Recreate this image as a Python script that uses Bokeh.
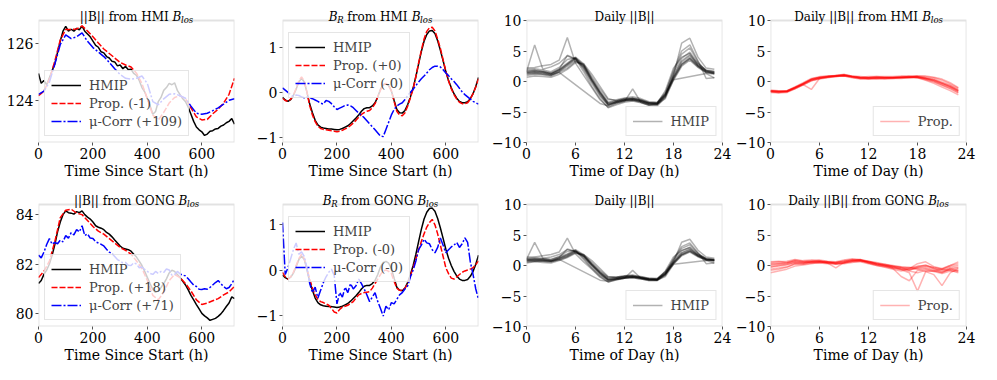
from bokeh.plotting import figure
from bokeh.layouts import gridplot
from bokeh.models import Range1d, FixedTicker, Label, Legend, LegendItem, BoxAnnotation
from bokeh.embed import file_html
from bokeh.resources import INLINE

FONT = "DejaVu Serif"

# ---------------- data ----------------
t10 = list(range(0, 721, 10))
t20 = list(range(0, 721, 20))
hours = list(range(24))

# ||B|| from HMI B_los
hmi_b_hmip = [124.95, 124.6, 124.7, 124.55, 124.8, 125.05, 125.3, 125.7, 126.1, 126.45,
              126.62, 126.45, 126.52, 126.45, 126.55, 126.5, 126.63, 126.45, 126.35, 126.25,
              126.1, 125.95, 125.88, 125.72, 125.68, 125.55, 125.5, 125.38, 125.36, 125.22,
              125.25, 125.12, 125.2, 125.08, 125.1, 124.95, 124.88, 124.7, 124.45, 124.3,
              124.05, 123.8, 123.5, 123.6, 123.95, 124.1, 124.35, 124.45, 124.6, 124.55,
              124.62, 124.35, 124.2, 124.05, 123.95, 123.75, 123.5, 123.25, 123.05, 122.95,
              122.88, 122.75, 122.8, 122.9, 122.92, 122.98, 123.0, 123.08, 123.12, 123.2,
              123.25, 123.35, 123.15]
hmi_b_prop = [124.16, 124.32, 124.75, 125.39, 126.14, 126.51, 126.51, 126.53, 126.64, 126.46,
              126.25, 126.03, 125.82, 125.66, 125.5, 125.34, 125.25, 125.18, 124.96, 124.59,
              124.05, 123.47, 123.3, 123.57, 123.9, 124.1, 124.16, 124.05, 123.73, 123.41,
              123.3, 123.32, 123.52, 123.68, 123.9, 124.21, 124.78]
hmi_b_mucorr = [124.21, 124.32, 124.64, 125.28, 125.98, 126.32, 126.19, 126.25, 126.39, 126.09,
                125.87, 125.71, 125.55, 125.34, 125.12, 124.91, 124.78, 124.75, 124.78, 124.86,
                124.59, 123.95, 123.84, 124.05, 124.21, 124.23, 124.16, 124.07, 123.79, 123.54,
                123.5, 123.54, 123.63, 123.73, 123.86, 124.0, 124.05]

# B_R (HMIP, shared by both B_R panels)
br_hmip = [-0.11, -0.17, -0.2, -0.16, -0.07, 0.07, 0.23, 0.31, 0.23, 0.0,
           -0.26, -0.45, -0.62, -0.72, -0.77, -0.79, -0.8, -0.81, -0.81, -0.82,
           -0.83, -0.82, -0.8, -0.77, -0.74, -0.69, -0.63, -0.57, -0.5, -0.42,
           -0.36, -0.34, -0.34, -0.3, -0.23, -0.1, 0.07, 0.17, 0.19, 0.15,
           0.03, -0.18, -0.38, -0.45, -0.46, -0.4, -0.27, -0.1, 0.1, 0.35,
           0.63, 0.9, 1.13, 1.28, 1.36, 1.37, 1.3, 1.14, 0.93, 0.7,
           0.46, 0.26, 0.1, -0.03, -0.13, -0.2, -0.23, -0.23, -0.21, -0.14,
           -0.03, 0.13, 0.33]
hmi_br_prop = [-0.13, -0.18, -0.2, -0.15, -0.06, 0.09, 0.25, 0.34, 0.25, 0.0,
               -0.3, -0.5, -0.65, -0.75, -0.8, -0.82, -0.83, -0.84, -0.85, -0.86,
               -0.87, -0.86, -0.84, -0.81, -0.78, -0.73, -0.68, -0.62, -0.55, -0.49,
               -0.45, -0.42, -0.4, -0.34, -0.25, -0.1, 0.05, 0.16, 0.2, 0.15,
               0.03, -0.2, -0.42, -0.5, -0.52, -0.45, -0.3, -0.12, 0.08, 0.35,
               0.65, 0.93, 1.18, 1.35, 1.43, 1.44, 1.36, 1.18, 0.97, 0.72,
               0.47, 0.25, 0.08, -0.05, -0.15, -0.22, -0.25, -0.25, -0.23, -0.15,
               -0.03, 0.12, 0.3]
hmi_br_mucorr = [0.1, 0.05, 0.0, -0.05, -0.09, -0.06, -0.07, -0.1, -0.12, -0.1,
                 -0.12, -0.14, -0.17, -0.2, -0.24, -0.26, -0.18, -0.2, -0.25, -0.32,
                 -0.38, -0.35, -0.32, -0.29, -0.28, -0.3, -0.34, -0.4, -0.46, -0.51,
                 -0.56, -0.63, -0.7, -0.76, -0.83, -0.9, -0.97, -0.98, -0.82, -0.66,
                 -0.5, -0.38, -0.3, -0.26, -0.23, -0.16, -0.07, 0.0, 0.07, 0.15,
                 0.23, 0.3, 0.36, 0.43, 0.5, 0.55, 0.58, 0.58, 0.56, 0.5,
                 0.43, 0.37, 0.3, 0.24, 0.17, 0.09, 0.01, -0.05, -0.1, -0.15,
                 -0.2, -0.23, -0.26]

# ||B|| from GONG B_los
gong_b_hmip = [81.21, 81.33, 81.58, 81.75, 82.0, 82.35, 82.79, 83.3, 83.7, 84.0,
               84.15, 84.08, 84.06, 84.02, 84.12, 84.08, 84.15, 84.0, 83.9, 83.82,
               83.7, 83.55, 83.49, 83.45, 83.39, 83.28, 83.21, 83.1, 82.97, 82.85,
               82.73, 82.64, 82.61, 82.58, 82.52, 82.4, 82.28, 82.12, 81.94, 81.7,
               81.45, 81.2, 80.97, 80.85, 80.91, 81.05, 81.21, 81.4, 81.64, 81.75,
               81.7, 81.58, 81.45, 81.3, 81.15, 80.95, 80.73, 80.55, 80.36, 80.18,
               80.0, 79.9, 79.82, 79.72, 79.76, 79.8, 79.88, 79.98, 80.12, 80.28,
               80.42, 80.67, 80.6]
gong_b_prop = [81.45, 81.7, 82.12, 82.91, 83.88, 84.18, 84.22, 84.06, 84.0, 83.76,
               83.52, 83.33, 83.21, 83.03, 82.85, 82.67, 82.55, 82.4, 82.12, 81.82,
               81.33, 80.73, 80.55, 80.85, 81.33, 81.58, 81.45, 81.21, 80.91, 80.55,
               80.36, 80.42, 80.51, 80.6, 80.75, 80.87, 81.09]
gong_b_mucorr = [82.36, 82.25, 82.48, 82.79, 83.03, 82.8, 82.88, 82.82, 82.97, 82.9,
                 83.15, 83.05, 83.27, 83.18, 83.39, 83.3, 83.55, 83.15, 83.22, 83.05,
                 83.03, 82.9, 82.85, 82.8, 82.73, 82.6, 82.48, 82.42, 82.3, 82.18,
                 82.12, 82.05, 82.06, 81.95, 81.94, 82.05, 82.0, 81.85, 81.88, 81.78,
                 81.7, 81.62, 81.58, 81.7, 81.62, 81.7, 81.66, 81.8, 81.76, 81.55,
                 81.58, 81.7, 81.6, 81.55, 81.52, 81.4, 81.27, 81.15, 81.09, 80.98,
                 80.97, 81.0, 80.98, 81.05, 81.15, 81.25, 81.33, 81.2, 81.09, 81.0,
                 81.05, 81.2, 81.39]

# B_R from GONG B_los
gong_br_prop = [-0.05, -0.15, -0.2, -0.15, -0.05, 0.1, 0.25, 0.35, 0.25, 0.02,
                -0.2, -0.4, -0.55, -0.65, -0.7, -0.72, -0.75, -0.78, -0.85, -0.93,
                -0.95, -0.87, -0.82, -0.8, -0.78, -0.74, -0.7, -0.62, -0.55, -0.52,
                -0.5, -0.49, -0.48, -0.4, -0.3, -0.2, -0.1, -0.02, 0.0, -0.03,
                -0.08, -0.25, -0.4, -0.45, -0.45, -0.4, -0.3, -0.13, 0.05, 0.25,
                0.45, 0.63, 0.8, 0.95, 1.05, 1.12, 1.0, 0.8, 0.55, 0.3,
                0.05, -0.08, -0.18, -0.2, -0.15, -0.1, -0.05, -0.02, 0.0, 0.02,
                0.05, 0.12, 0.2]
gong_br_mucorr = [1.05, -0.1, 0.05, 0.25, 0.45, 0.6, 0.35, 0.4, 0.3, 0.05,
                  -0.3, -0.5, -0.38, -0.62, -0.45, -0.28, -0.15, -0.05, 0.02, -0.12,
                  -0.75, -0.5, -0.6, -0.38, -0.5, -0.3, -0.42, -0.35, -0.2, -0.3,
                  -0.42, -0.55, -0.7, -0.6, -0.5, -0.7, -0.85, -1.02, -0.8, -0.88,
                  -0.72, -0.75, -0.65, -0.55, -0.5, -0.42, -0.35, -0.15, 0.0, 0.2,
                  0.45, 0.55, 0.68, 0.6, 0.58, 0.45, 0.38, 0.5, 0.71, 0.55,
                  0.38, 0.45, 0.51, 0.55, 0.61, 0.5, 0.58, 0.71, 0.61, 0.18,
                  -0.1, -0.42, -0.65]

N = None
# Daily ||B|| profiles, HMIP (HMI panel)
daily_hmi_hmip = [
    [1.5, 1.6, 1.5, 1.2, 1.8, 2.8, 3.8, 2.6, 0.3, -1.8, -3.6, -3.3, -3.0, -2.9, -3.2, -3.6, -3.6, -2.2, 0.5, 2.8, 3.8, 2.5, 1.6, 1.4],
    [1.8, 1.9, 1.7, 1.4, 2.0, 3.0, 4.0, 2.9, 0.5, -1.6, -3.4, -3.1, -2.8, -2.7, -3.0, -3.4, -3.5, -2.0, 0.8, 3.2, 4.2, 2.7, 1.8, 1.6],
    [1.2, 1.3, 1.2, 1.0, 1.6, 2.5, 3.5, 2.4, 0.1, -2.0, -3.8, -3.5, -3.2, -3.1, -3.4, -3.8, -3.8, -2.5, 0.2, 2.5, 3.5, 2.3, 1.4, 1.2],
    [2.0, 2.1, 1.9, 1.6, 2.3, 3.6, 3.9, 2.0, -0.3, -2.4, -3.9, -3.3, -3.0, -2.8, -3.1, -3.5, -3.7, -2.3, 1.2, 3.8, 4.8, 3.0, 1.8, 1.5],
    [1.0, 1.2, 1.1, 0.9, 1.5, 2.2, 3.3, 2.7, 0.8, -1.2, -3.0, -3.0, -2.7, -2.5, -2.8, -3.3, -3.4, -1.8, 1.5, 4.5, 5.5, 3.2, 1.7, 1.3],
    [1.6, 6.0, 2.0, 2.4, 3.0, 4.2, 3.6, 2.2, 0.0, -2.2, -3.8, -3.4, -3.1, -3.0, -3.3, -3.7, -3.8, -2.4, 0.8, 3.4, 4.4, 2.9, 1.9, 1.7],
    [2.2, 2.3, 2.6, 2.8, 3.5, 7.2, 3.0, 1.0, -1.0, -3.0, -4.2, -3.6, -3.3, -1.2, -3.4, -3.9, -4.0, -2.6, 1.0, 6.3, 7.1, 4.0, 2.2, 2.0],
    [1.4, 1.5, 1.3, 1.1, 1.5, N, N, N, N, -3.6, -4.0, -3.5, -3.1, -3.0, -3.2, -3.6, -3.7, -2.8, 0.3, N, N, N, 1.3, 0.6],
    [0.7, 0.9, 0.8, 0.7, 1.2, 2.0, 3.1, 2.9, 1.2, -0.8, -2.8, -3.2, -2.9, -2.8, -3.0, -3.5, -3.6, -2.0, 1.8, 5.0, 6.0, 3.4, 0.5, 0.6],
    [1.7, 1.8, 1.6, 1.3, 2.0, 4.3, 3.7, 1.6, -0.8, -2.8, -4.3, -3.8, -3.4, -3.2, -3.5, -3.9, -3.6, -1.5, 2.2, 4.0, 4.6, 2.6, 1.5, 1.3],
    [1.5, 1.7, 1.6, 1.3, 1.9, 2.9, 3.9, 2.7, 0.4, -1.7, -3.5, -3.2, -2.9, -2.8, -3.1, -3.5, -3.5, -2.1, 0.6, 2.9, 3.9, 2.6, 1.7, 1.5],
    [1.3, 1.4, 1.4, 1.1, 1.7, 2.7, 3.7, 2.5, 0.2, -1.9, -3.7, -3.4, -3.1, -3.0, -3.3, -3.7, -3.7, -2.3, 0.4, 2.7, 3.7, 2.4, 1.5, 1.3],
]
# Daily ||B|| profiles, Prop. from HMI
daily_hmi_prop = [
    [-1.6, -1.7, -1.6, -1.0, -0.4, 0.3, 0.6, 0.8, 0.9, 1.0, 0.8, 0.6, 0.6, 0.6, 0.6, 0.6, 0.7, 0.7, 0.8, 0.6, 0.3, -0.2, -0.7, -1.4],
    [-1.4, -1.5, -1.5, -0.9, -0.2, 0.5, 0.8, 0.9, 1.0, 1.1, 0.9, 0.8, 0.7, 0.8, 0.8, 0.8, 0.9, 0.9, 0.9, 0.8, 0.6, 0.2, -0.4, -1.1],
    [-1.8, -1.9, -1.8, -1.2, -0.6, 0.1, 0.4, 0.6, 0.8, 0.9, 0.6, 0.4, 0.4, 0.4, 0.4, 0.5, 0.5, 0.6, 0.7, 0.4, 0.0, -0.6, -1.1, -1.8],
    [-1.5, -1.6, -1.7, -1.1, -0.5, -1.3, 0.5, 0.8, 0.9, 1.1, 0.9, 0.7, 0.6, 0.5, 0.6, 0.7, 0.7, 0.8, 0.8, 0.5, 0.2, -0.3, -0.9, -1.6],
    [-1.7, -1.8, -1.6, -0.9, -0.3, 0.4, 0.7, 0.9, 1.0, 1.2, 0.8, 0.6, 0.5, 0.6, 0.5, 0.6, 0.8, 0.8, 0.6, 0.2, -0.3, -0.9, -1.5, -2.2],
    [-1.6, -1.7, -1.5, -1.0, -0.5, 0.2, 0.5, 0.7, 0.8, 1.0, 0.7, 0.5, 0.6, 0.7, 0.7, 0.6, 0.6, 0.7, 0.9, 0.9, 0.7, 0.4, -0.2, -1.0],
    [-1.5, -1.6, -1.6, -1.1, -0.4, 0.3, 0.6, 0.7, 0.9, 1.0, 0.8, 0.7, 0.8, 0.8, 0.7, 0.7, 0.6, 0.6, 0.7, 0.5, 0.1, -0.4, -0.9, -1.6],
    [-1.7, -1.8, -1.7, -1.2, -0.5, 0.1, 0.5, 0.7, 0.8, 0.9, 0.7, 0.5, 0.4, 0.5, 0.5, 0.5, 0.6, 0.7, 0.6, 0.3, -0.1, -0.6, -1.2, -1.9],
    [-1.5, -1.6, -1.6, -1.0, -0.3, 0.4, 0.7, 0.8, 1.0, 1.1, 0.8, 0.6, 0.6, 0.7, 0.6, 0.6, 0.7, 0.8, 0.8, 0.6, 0.4, -0.1, -0.6, -1.3],
    [-1.6, -1.7, -1.7, -1.0, -0.4, 0.3, 0.6, 0.8, 0.9, 1.0, 0.8, 0.6, 0.5, 0.6, 0.6, 0.6, 0.7, 0.7, 0.7, 0.5, 0.2, -0.3, -0.8, -1.5],
]
# Daily ||B|| profiles, HMIP (GONG panel)
daily_gong_hmip = [
    [0.8, 0.9, 0.9, 0.8, 1.2, 1.7, 2.4, 1.6, 0.2, -1.2, -2.2, -2.1, -1.9, -1.8, -2.0, -2.3, -2.3, -1.2, 0.4, 1.8, 2.4, 1.6, 1.0, 0.9],
    [1.0, 1.1, 1.1, 1.0, 1.4, 1.9, 2.6, 1.8, 0.3, -1.0, -2.0, -1.9, -1.7, -1.6, -1.9, -2.1, -2.2, -1.0, 0.6, 2.0, 2.6, 1.7, 1.1, 1.0],
    [0.6, 0.7, 0.7, 0.6, 1.0, 1.5, 2.2, 1.5, 0.0, -1.3, -2.4, -2.3, -2.1, -2.0, -2.2, -2.4, -2.4, -1.5, 0.2, 1.6, 2.2, 1.4, 0.9, 0.7],
    [1.2, 1.3, 1.2, 1.0, 1.5, 2.3, 2.5, 1.2, -0.3, -1.6, -2.4, -2.1, -1.9, -1.8, -2.0, -2.2, -2.3, -1.4, 0.8, 2.4, 3.0, 1.9, 1.1, 0.9],
    [0.6, 0.7, 0.7, 0.6, 0.9, 1.4, 2.1, 1.7, 0.5, -0.8, -1.9, -1.9, -1.7, -1.6, -1.8, -2.1, -2.1, -1.1, 1.0, 2.8, 3.4, 2.0, 1.0, 0.8],
    [1.0, 3.8, 1.2, 1.4, 1.8, 2.6, 2.3, 1.4, 0.0, -1.4, -2.4, -2.2, -2.0, -1.9, -2.1, -2.3, -2.4, -1.5, 0.5, 2.1, 2.7, 1.8, 1.2, 1.0],
    [1.4, 1.4, 1.6, 1.8, 2.2, 4.5, 1.9, 0.6, -0.6, -1.9, -2.7, -2.3, -2.1, -0.8, -2.1, -2.5, -2.5, -1.6, 0.6, 3.8, 4.3, 2.5, 1.4, 1.2],
    [0.9, 0.9, 0.8, 0.7, 1.0, N, N, N, N, -2.4, -2.6, -2.2, -2.0, -1.9, -2.0, -2.3, -2.4, -1.8, 0.2, N, N, N, 0.8, 0.4],
    [0.4, 0.6, 0.5, 0.4, 0.8, 1.3, 2.0, 1.8, 0.8, -0.5, -1.8, -2.0, -1.8, -1.8, -1.9, -2.2, -2.3, -1.3, 1.1, 3.1, 3.7, 2.1, 0.3, 0.4],
    [1.1, 1.1, 1.0, 0.8, 1.3, 2.7, 2.3, 1.0, -0.5, -1.8, -2.7, -2.4, -2.1, -2.0, -2.2, -2.4, -2.3, -0.9, 1.4, 2.5, 2.9, 1.6, 0.9, 0.8],
    [0.9, 1.0, 1.0, 0.8, 1.2, 1.8, 2.4, 1.7, 0.2, -1.1, -2.2, -2.0, -1.8, -1.7, -2.0, -2.2, -2.2, -1.3, 0.4, 1.8, 2.4, 1.6, 1.0, 0.9],
    [0.8, 0.8, 0.8, 0.7, 1.1, 1.6, 2.3, 1.5, 0.1, -1.2, -2.3, -2.2, -2.0, -1.9, -2.1, -2.3, -2.3, -1.4, 0.3, 1.7, 2.3, 1.5, 0.9, 0.8],
]
# Daily ||B|| profiles, Prop. from GONG
daily_gong_prop = [
    [0.0, 0.2, 0.3, 0.6, 0.5, 0.6, 0.7, 0.5, 0.4, 0.6, 0.8, 0.8, 0.5, 0.2, 0.0, -0.3, -0.5, -0.6, -0.4, -0.3, -0.6, -0.8, -0.4, -0.3],
    [-0.6, -0.4, -0.2, 0.2, 0.3, 0.5, 0.4, 0.3, 0.2, 0.4, 0.7, 0.9, 0.6, 0.4, 0.1, -0.1, -0.3, -0.8, -0.2, 0.1, -0.5, -1.0, -0.7, -0.8],
    [0.5, 0.6, 0.7, 1.0, 0.8, 0.9, 0.9, 0.7, 0.6, 0.9, 1.1, 0.9, 0.4, 0.0, -0.3, -0.6, -0.9, -0.5, 0.3, 0.6, -0.2, -0.5, 0.0, 0.6],
    [-1.2, -0.9, -0.6, -0.1, 0.1, 0.3, 0.5, 0.6, 0.3, 0.3, 0.5, 0.7, 0.7, 0.5, 0.2, -0.2, -0.7, -1.2, -4.2, -1.0, -0.9, -0.6, -0.8, -1.2],
    [0.3, 0.4, 0.5, 0.9, 0.7, 0.7, 0.8, 0.6, 0.5, 0.7, 1.0, 1.0, 0.7, 0.3, 0.2, 0.0, -0.2, -0.3, -0.6, -1.0, -1.5, -3.3, -1.2, -0.5],
    [-0.3, -0.1, 0.1, 0.4, 0.4, 0.6, 0.6, 0.4, -0.4, 0.5, 0.6, 0.6, 0.3, 0.0, -0.2, -0.5, -1.8, -2.5, -0.8, -0.6, -0.9, -1.1, -0.5, -0.9],
    [0.2, 0.3, 0.4, 0.8, 0.6, 0.5, 0.6, 0.4, 0.5, 0.8, 0.9, 1.0, 0.6, 0.3, 0.1, -0.1, -0.4, -0.4, -0.1, 0.0, -0.4, -0.6, -0.2, 0.0],
    [-0.2, 0.0, 0.2, 0.5, 0.4, 0.6, 0.7, 0.5, 0.3, 0.5, 0.8, 0.7, 0.4, 0.1, -0.1, -0.4, -0.6, -0.7, -0.5, -0.5, -0.8, -1.2, -0.6, -0.4],
    [0.6, 0.7, 0.5, 0.7, 0.6, 0.8, 0.7, 0.6, 0.5, 0.6, 0.9, 0.8, 0.6, 0.3, -0.1, -0.2, -0.3, -0.4, -0.3, -0.1, -0.3, -0.6, 0.0, 0.3],
    [-0.8, -0.6, -0.3, 0.3, 0.2, 0.4, 0.5, 0.4, 0.3, 0.4, 0.7, 0.9, 0.5, 0.2, 0.0, -0.4, -0.6, -0.9, -1.2, -0.8, -1.0, -1.3, -0.9, -1.0],
]

legend_labels = {
    "hmi_b": ["HMIP", "Prop. (-1)", "μ-Corr (+109)"],
    "hmi_br": ["HMIP", "Prop. (+0)", "μ-Corr (-0)"],
    "gong_b": ["HMIP", "Prop. (+18)", "μ-Corr (+71)"],
    "gong_br": ["HMIP", "Prop. (-0)", "μ-Corr (-0)"],
}

# ---------------- styling helpers ----------------
FW, FH, TOP = 196, 122, 18   # visible plot box, plus a title strip inside the frame
CW = {' ': 0.318, '|': 0.337, 'B': 0.70, 'R': 0.75, 'f': 0.370, 'r': 0.478, 'o': 0.602,
      'm': 0.948, 'H': 0.872, 'M': 0.995, 'I': 0.462, 'G': 0.80, 'O': 0.82, 'N': 0.90,
      'D': 0.830, 'a': 0.596, 'i': 0.320, 'l': 0.320, 'y': 0.565, 's': 0.513}
MINUS = "\u2212"
DASHED = "6 2"
DASHDOT = "10 2 2 2"


def tw(s, size):
    return sum(CW.get(c, 0.6) for c in s) * size


def add_title(p, parts):
    big, small = 12, 8.5
    total = sum(tw(t, small if sub else big) for t, it, sub in parts)
    x = FW / 2 - total / 2
    for t, it, sub in parts:
        size = small if sub else big
        lead = len(t) - len(t.lstrip(" "))
        xs = x + tw(" " * lead, size)
        p.add_layout(Label(x=xs, y=FH + 4 - (3 if sub else 0), x_units="screen", y_units="screen",
                           text=t.strip(), text_font=FONT, text_font_size=f"{size}px",
                           text_font_style="italic" if it else "normal",
                           text_baseline="alphabetic", text_align="left", text_color="black"))
        x += tw(t, size)


def make_fig(xr, yr, xticks, yticks, xlabel):
    y0, y1 = yr
    ytop = y1 + (y1 - y0) * TOP / FH
    p = figure(frame_width=FW, frame_height=FH + TOP, min_border_left=38, min_border_right=10,
               min_border_top=2, min_border_bottom=42,
               x_range=Range1d(*xr), y_range=Range1d(y0, ytop),
               output_backend="svg", toolbar_location=None)
    p.grid.visible = False
    p.outline_line_color = None
    p.background_fill_color = "white"
    p.border_fill_color = "white"
    p.add_layout(BoxAnnotation(left=xr[0], right=xr[1], bottom=y0, top=y1,
                               fill_color=None, fill_alpha=0, line_color="#a0a0a0", line_width=1.8))
    p.xaxis.ticker = FixedTicker(ticks=xticks)
    p.yaxis.ticker = FixedTicker(ticks=yticks)
    p.yaxis.major_label_overrides = {v: (MINUS + str(abs(v)) if v < 0 else str(v)) for v in yticks}
    p.xaxis.axis_label = xlabel
    for ax in (p.xaxis[0], p.yaxis[0]):
        ax.major_label_text_font = FONT
        ax.major_label_text_font_size = "14px"
        ax.major_label_text_color = "black"
        ax.axis_label_text_font = FONT
        ax.axis_label_text_font_size = "14px"
        ax.axis_label_text_font_style = "normal"
        ax.axis_label_text_color = "black"
        ax.axis_line_color = None
        ax.major_tick_in = 0
        ax.major_tick_out = 3
        ax.major_tick_line_color = "#555555"
        ax.minor_tick_in = 0
        ax.minor_tick_out = 0
        ax.major_label_standoff = 2
        ax.axis_label_standoff = 1
    return p


def style_legend(p, items, location):
    lg = Legend(items=items, location=location, label_text_font=FONT, label_text_font_size="13px",
                glyph_width=30, glyph_height=16, label_height=16, spacing=2, padding=6, margin=6,
                label_standoff=8, border_line_color="#cccccc", border_line_width=1,
                background_fill_color="white", background_fill_alpha=0.8)
    p.add_layout(lg)


def ts_panel(yr, yticks, hmip, t_hmip, prop, t_prop, mu, t_mu, labels, loc, title_parts):
    p = make_fig((0, 720), yr, [0, 200, 400, 600], yticks, "Time Since Start (h)")
    r1 = p.line(t_hmip, hmip, line_color="black", line_width=1.5)
    r2 = p.line(t_prop, prop, line_color="red", line_width=1.5, line_dash=DASHED)
    r3 = p.line(t_mu, mu, line_color="blue", line_width=1.5, line_dash=DASHDOT)
    style_legend(p, [LegendItem(label=labels[0], renderers=[r1]),
                     LegendItem(label=labels[1], renderers=[r2]),
                     LegendItem(label=labels[2], renderers=[r3])], loc)
    add_title(p, title_parts)
    return p


def daily_panel(days, color, label, title_parts):
    p = make_fig((0, 24), (-10, 10), [0, 6, 12, 18, 24], [-10, -5, 0, 5, 10], "Time of Day (h)")
    xs = [[h for h, v in zip(hours, d) if v is not None] for d in days]
    ys = [[v for v in d if v is not None] for d in days]
    r = p.multi_line(xs, ys, line_color=color, line_alpha=0.3, line_width=1.5)
    style_legend(p, [LegendItem(label=label, renderers=[r])], "bottom_right")
    add_title(p, title_parts)
    return p


# legend placed just below the top edge of the visible plot box
TOP_LEFT = (6, FH - 78)

p1 = ts_panel((122.5, 126.83), [124, 126], hmi_b_hmip, t10, hmi_b_prop, t20, hmi_b_mucorr, t20,
              legend_labels["hmi_b"], "bottom_left",
              [("||B|| from HMI ", False, False), ("B", True, False), ("los", True, True)])
p2 = ts_panel((-1.11, 1.59), [-1, 0, 1], br_hmip, t10, hmi_br_prop, t10, hmi_br_mucorr, t10,
              legend_labels["hmi_br"], TOP_LEFT,
              [("B", True, False), ("R", True, True), (" from HMI ", False, False),
               ("B", True, False), ("los", True, True)])
p3 = daily_panel(daily_hmi_hmip, "black", "HMIP", [("Daily ||B||", False, False)])
p4 = daily_panel(daily_hmi_prop, "red", "Prop.",
                 [("Daily ||B|| from HMI ", False, False), ("B", True, False), ("los", True, True)])
p5 = ts_panel((79.47, 84.41), [80, 82, 84], gong_b_hmip, t10, gong_b_prop, t20, gong_b_mucorr, t10,
              legend_labels["gong_b"], "bottom_left",
              [("||B|| from GONG ", False, False), ("B", True, False), ("los", True, True)])
p6 = ts_panel((-1.25, 1.45), [-1, 0, 1], br_hmip, t10, gong_br_prop, t10, gong_br_mucorr, t10,
              legend_labels["gong_br"], TOP_LEFT,
              [("B", True, False), ("R", True, True), (" from GONG ", False, False),
               ("B", True, False), ("los", True, True)])
p7 = daily_panel(daily_gong_hmip, "black", "HMIP", [("Daily ||B||", False, False)])
p8 = daily_panel(daily_gong_prop, "red", "Prop.",
                 [("Daily ||B|| from GONG ", False, False), ("B", True, False), ("los", True, True)])

grid = gridplot([[p1, p2, p3, p4], [p5, p6, p7, p8]], toolbar_location=None)

open("out.html", "w").write(file_html(grid, INLINE))
